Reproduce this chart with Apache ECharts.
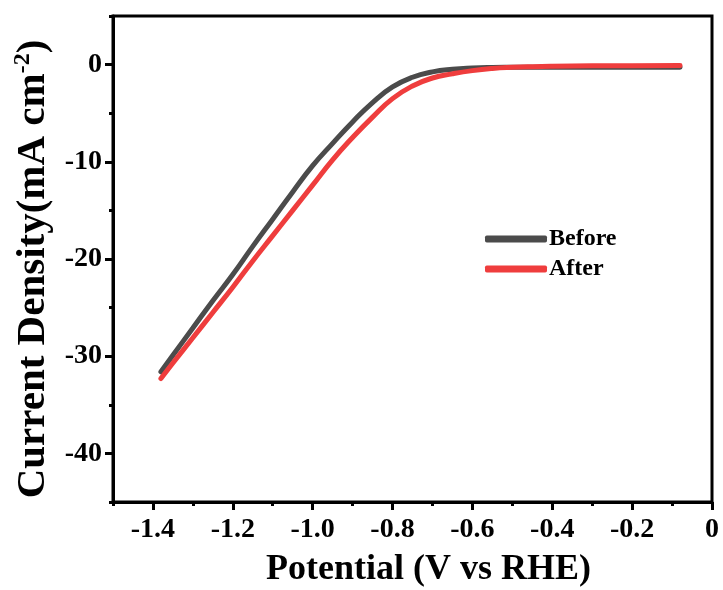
<!DOCTYPE html>
<html><head><meta charset="utf-8">
<script src="https://cdn.jsdelivr.net/npm/echarts@6/dist/echarts.min.js"></script>
<style>html,body{margin:0;padding:0;background:#fff}#c{width:723px;height:590px}</style>
</head><body><div id="c"></div>
<script>
var potential = [-1.38,-1.35,-1.30,-1.25,-1.20,-1.15,-1.10,-1.05,-1.00,-0.95,-0.90,-0.85,-0.80,-0.75,-0.70,-0.65,-0.60,-0.55,-0.50,-0.45,-0.40,-0.30,-0.20,-0.08];
var before = [-31.6,-29.9,-27.1,-24.3,-21.6,-18.7,-15.9,-13.1,-10.4,-8.1,-5.9,-3.9,-2.3,-1.3,-0.75,-0.48,-0.35,-0.29,-0.27,-0.26,-0.26,-0.26,-0.27,-0.28];
var after = [-32.3,-30.7,-28.1,-25.5,-22.9,-20.2,-17.6,-15.0,-12.4,-9.8,-7.5,-5.4,-3.5,-2.2,-1.38,-0.95,-0.62,-0.40,-0.28,-0.21,-0.17,-0.13,-0.11,-0.09];
var xMajor = [-1.4,-1.2,-1.0,-0.8,-0.6,-0.4,-0.2,0];
var xMinor = [-1.5,-1.3,-1.1,-0.9,-0.7,-0.5,-0.3,-0.1];
var yMajor = [0,-10,-20,-30,-40];
var yMinor = [5,-5,-15,-25,-35,-45];
var seriesNames = ['Before','After'];
var colors = ['#4b4b4b','#ef3d3d'];

function pairs(xs, ys){ return xs.map(function(x,i){return [x, ys[i]];}); }
var FONT = 'Liberation Serif';
var chart = echarts.init(document.getElementById('c'), null, {renderer:'canvas'});
chart.setOption({
  animation:false,
  backgroundColor:'#fff',
  grid:{left:113, right:11, top:16, bottom:88, show:true, borderColor:'#000', borderWidth:3, containLabel:false, outerBoundsMode:'none'},
  legend:{
    orient:'vertical', left:480, top:222, itemWidth:62, itemHeight:7, itemGap:6, icon:'roundRect',
    data:seriesNames,
    textStyle:{fontFamily:FONT, fontWeight:'bold', fontSize:24, color:'#000', padding:[0,0,0,-3]}
  },
  xAxis:[{
    type:'value', min:-1.5, max:0, position:'bottom',
    name:'Potential (V vs RHE)', nameLocation:'middle', nameGap:50,
    nameTextStyle:{fontFamily:FONT, fontWeight:'bold', fontSize:36, color:'#000', padding:[0,0,0,32]},
    axisLine:{show:true, onZero:false, lineStyle:{color:'#000', width:3}},
    axisTick:{show:true, inside:false, length:8, lineStyle:{color:'#000', width:3}, customValues:xMajor},
    axisLabel:{customValues:xMajor, margin:14, fontFamily:FONT, fontWeight:'bold', fontSize:28, color:'#000',
      formatter:function(v){ return v===0 ? '0' : v.toFixed(1); }},
    splitLine:{show:false}
  },{
    type:'value', min:-1.5, max:0, position:'bottom',
    axisLine:{show:false, onZero:false},
    axisTick:{show:true, inside:false, length:4, lineStyle:{color:'#000', width:3}, customValues:xMinor},
    axisLabel:{show:false}, splitLine:{show:false}
  }],
  yAxis:[{
    type:'value', min:-45, max:5, position:'left',
    name:'{a|Current Density(mA cm}{s|-2}{a|)}', nameLocation:'middle', nameGap:55, nameRotate:90,
    nameTextStyle:{padding:[0,20,0,0], rich:{
      a:{fontFamily:FONT, fontWeight:'bold', fontSize:41, color:'#000', lineHeight:44},
      s:{fontFamily:FONT, fontWeight:'bold', fontSize:24, color:'#000', verticalAlign:'top', lineHeight:44, padding:[0,0,18,0]}
    }},
    axisLine:{show:true, onZero:false, lineStyle:{color:'#000', width:3}},
    axisTick:{show:true, inside:false, length:8, lineStyle:{color:'#000', width:3}, customValues:yMajor},
    axisLabel:{customValues:yMajor, margin:11, fontFamily:FONT, fontWeight:'bold', fontSize:28, color:'#000'},
    splitLine:{show:false}
  },{
    type:'value', min:-45, max:5, position:'left',
    axisLine:{show:false, onZero:false},
    axisTick:{show:true, inside:false, length:4, lineStyle:{color:'#000', width:3}, customValues:yMinor},
    axisLabel:{show:false}, splitLine:{show:false}
  }],
  series:[{
    name:seriesNames[0], type:'line', data:pairs(potential,before), smooth:0.5, symbol:'none',
    lineStyle:{color:colors[0], width:5, cap:'round'}, itemStyle:{color:colors[0]}, z:2
  },{
    name:seriesNames[1], type:'line', data:pairs(potential,after), smooth:0.5, symbol:'none',
    lineStyle:{color:colors[1], width:5, cap:'round'}, itemStyle:{color:colors[1]}, z:3
  }]
});
</script></body></html>
